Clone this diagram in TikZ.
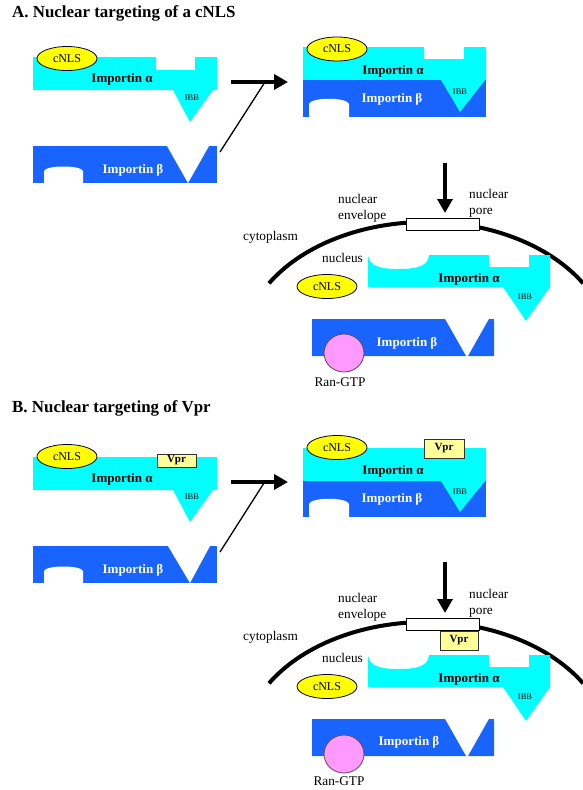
\documentclass[tikz,border=0pt]{standalone}
\usepackage{fontspec}
\setmainfont{Liberation Serif}
\usetikzlibrary{arrows.meta,shapes.geometric}
\definecolor{alphacyan}{RGB}{0,255,255}
\definecolor{betablue}{RGB}{25,100,255}
\definecolor{nlsyellow}{RGB}{255,255,0}
\definecolor{vprfill}{RGB}{255,255,153}
\definecolor{ranpink}{RGB}{255,153,255}
\begin{document}
\begin{tikzpicture}[x=1pt,y=-1pt,
  titletext/.style={inner sep=0pt,font=\fontsize{16.9}{18}\selectfont\bfseries},
  alphatext/.style={inner sep=0pt,font=\fontsize{13}{15}\selectfont\bfseries},
  betatext/.style={inner sep=0pt,text=white,font=\fontsize{13}{15}\selectfont\bfseries},
  ibbtext/.style={inner sep=0pt,font=\fontsize{8.5}{10}\selectfont},
  labeltext/.style={inner sep=0pt,font=\fontsize{13.3}{16}\selectfont},
  nls/.style={ellipse,draw=black!80!blue,line width=0.8pt,fill=nlsyellow,minimum width=60pt,minimum height=24pt,inner sep=0pt,font=\fontsize{12}{13}\selectfont},
  ran/.style={ellipse,draw=black!70!magenta,line width=0.8pt,fill=ranpink,minimum width=40pt,minimum height=38pt,inner sep=0pt},
  vprbox/.style={rectangle,draw=black!80,line width=0.7pt,fill=vprfill,inner sep=0pt,font=\fontsize{11}{13}\selectfont\bfseries},
  pore/.style={rectangle,draw=black,line width=0.8pt,fill=white,minimum width=73pt,minimum height=12pt,inner sep=0pt},
  bigarrow/.style={line width=4pt,-{Triangle[length=14pt,width=15pt]}},
  thinline/.style={line width=1.3pt},
  envelope/.style={line width=4pt}]
\useasboundingbox (0,0) rectangle (583,790);

% ---------------- titles ----------------
\node[titletext,anchor=base west] (titleA) at (12,17.5) {A. Nuclear targeting of a cNLS};
\node[titletext,anchor=base west] (titleB) at (12,412) {B. Nuclear targeting of Vpr};

% ================= PANEL A =================
\begin{scope}
% left importin alpha
\fill[alphacyan] (33,57) -- (156,57) -- (156,70) -- (195,70) -- (195,57) -- (217,57) -- (217,90) -- (213,90) -- (190,122) -- (173,90) -- (33,90) -- cycle;
\node[ibbtext] (A-ibb1) at (192,98) {IBB};
\node[alphatext] (A-alpha1) at (122,79) {Importin α};
\node[nls] (A-nls1) at (67,58.5) {cNLS};
% left importin beta
\fill[betablue] (33,146) rectangle (217,183);
\fill[white] (167,146) -- (209,146) -- (188,183) -- cycle;
\fill[white] (44,183) -- (44,171) .. controls (46,165) and (81,165) .. (83,171) -- (83,183) -- cycle;
\node[betatext] (A-beta1) at (133,170) {Importin β};
% arrows
\coordinate (A-h0) at (231,82);
\coordinate (A-h1) at (288,82);
\draw[bigarrow] (A-h0) -- (A-h1);
\coordinate (A-t0) at (220,152);
\coordinate (A-t1) at (265,82);
\draw[thinline] (A-t0) -- (A-t1);
% complex
\fill[alphacyan] (303,47) -- (424,47) -- (424,59) -- (464,59) -- (464,47) -- (486,47) -- (486,80) -- (303,80) -- cycle;
\fill[betablue] (303,80) rectangle (486,117);
\fill[alphacyan] (441,80) -- (485,80) -- (460,112) -- cycle;
\fill[white] (309,117) -- (309,104) .. controls (311,97) and (347,97) .. (349,104) -- (349,117) -- cycle;
\node[alphatext] (A-alpha2) at (393,71) {Importin α};
\node[betatext] (A-beta2) at (392,99) {Importin β};
\node[ibbtext] (A-ibb2) at (460,92) {IBB};
\node[nls] (A-nls2) at (337,49) {cNLS};
% down arrow and envelope
\coordinate (A-d0) at (445,163);
\coordinate (A-d1) at (445,213);
\draw[bigarrow] (A-d0) -- (A-d1);
\draw[envelope] (269,283.3) arc[start angle=211.4,end angle=328.6,x radius=184,y radius=128];
\node[pore] (A-pore) at (442.5,224) {};
\node[labeltext,align=left,anchor=west] (A-ne) at (338,208) {nuclear\\envelope};
\node[labeltext,align=left,anchor=west] (A-np) at (469,203) {nuclear\\pore};
\node[labeltext,anchor=west] (A-cyto) at (243,237) {cytoplasm};
\node[labeltext,anchor=west] (A-nuc) at (322,258) {nucleus};
% nucleus importin alpha
\fill[alphacyan] (368,255) .. controls (369,266) and (380,269) .. (398,269) .. controls (418,269) and (428,266) .. (429,255) -- (489,255) -- (489,267) -- (529,267) -- (529,255) -- (550,255) -- (550,287) -- (526,321) -- (503,287) -- (368,287) -- cycle;
\node[alphatext] (A-alpha3) at (469,279) {Importin α};
\node[ibbtext] (A-ibb3) at (525,297) {IBB};
\node[nls] (A-nls3) at (327,286.5) {cNLS};
% nucleus importin beta
\fill[betablue] (312,319) -- (445,319) -- (466,356) -- (312,356) -- cycle;
\fill[betablue] (489,319) -- (494,319) -- (494,356) -- (468,356) -- cycle;
\node[betatext] (A-beta3) at (407,343) {Importin β};
\node[ran] (A-ran) at (344,353) {};
\node[labeltext] (A-rantext) at (340,382) {Ran-GTP};
\end{scope}

% ================= PANEL B =================
\begin{scope}[shift={(0,400)}]
% left importin alpha
\fill[alphacyan] (33,57) -- (217,57) -- (217,90) -- (213,90) -- (190,122) -- (173,90) -- (33,90) -- cycle;
\node[ibbtext] (B-ibb1) at (192,97) {IBB};
\node[alphatext] (B-alpha1) at (122,79) {Importin α};
\node[nls] (B-nls1) at (67,56.5) {cNLS};
\node[vprbox,minimum width=39pt,minimum height=13pt] (B-vpr1) at (176.5,60.5) {Vpr};
% left importin beta
\fill[betablue] (33,146) rectangle (217,183);
\fill[white] (168,146) -- (210,146) -- (190,183) -- cycle;
\fill[white] (44,183) -- (44,171) .. controls (46,165) and (81,165) .. (83,171) -- (83,183) -- cycle;
\node[betatext] (B-beta1) at (133,170) {Importin β};
% arrows
\coordinate (B-h0) at (231,82);
\coordinate (B-h1) at (288,82);
\draw[bigarrow] (B-h0) -- (B-h1);
\coordinate (B-t0) at (220,152);
\coordinate (B-t1) at (264,83);
\draw[thinline] (B-t0) -- (B-t1);
% complex
\fill[alphacyan] (303,48) -- (486,48) -- (486,81) -- (303,81) -- cycle;
\fill[betablue] (303,81) rectangle (486,117);
\fill[alphacyan] (441,81) -- (485,81) -- (460,112) -- cycle;
\fill[white] (309,117) -- (309,104) .. controls (311,97) and (347,97) .. (349,104) -- (349,117) -- cycle;
\node[alphatext] (B-alpha2) at (393,71) {Importin α};
\node[betatext] (B-beta2) at (392,99) {Importin β};
\node[ibbtext] (B-ibb2) at (460,92) {IBB};
\node[nls] (B-nls2) at (337,47.5) {cNLS};
\node[vprbox,minimum width=40pt,minimum height=19pt] (B-vpr2) at (444,48.5) {Vpr};
% down arrow and envelope
\coordinate (B-d0) at (445,162);
\coordinate (B-d1) at (445,213);
\draw[bigarrow] (B-d0) -- (B-d1);
\draw[envelope] (269,283.3) arc[start angle=211.4,end angle=328.6,x radius=184,y radius=128];
\node[pore] (B-pore) at (442.5,224) {};
\node[vprbox,minimum width=38pt,minimum height=19pt] (B-vpr3) at (459,240.5) {Vpr};
\node[labeltext,align=left,anchor=west] (B-ne) at (338,207.5) {nuclear\\envelope};
\node[labeltext,align=left,anchor=west] (B-np) at (469,203) {nuclear\\pore};
\node[labeltext,anchor=west] (B-cyto) at (243,237) {cytoplasm};
\node[labeltext,anchor=west] (B-nuc) at (322,258) {nucleus};
% nucleus importin alpha
\fill[alphacyan] (368,255) .. controls (369,266) and (380,269) .. (398,269) .. controls (418,269) and (428,266) .. (429,255) -- (489,255) -- (489,267) -- (529,267) -- (529,255) -- (550,255) -- (550,287) -- (526,321) -- (503,287) -- (368,287) -- cycle;
\node[alphatext] (B-alpha3) at (469,279) {Importin α};
\node[ibbtext] (B-ibb3) at (525,297) {IBB};
\node[nls] (B-nls3) at (327,286.5) {cNLS};
% nucleus importin beta
\fill[betablue] (312,319) -- (445,319) -- (466,356) -- (312,356) -- cycle;
\fill[betablue] (489,319) -- (494,319) -- (494,356) -- (468,356) -- cycle;
\node[betatext] (B-beta3) at (409,342) {Importin β};
\node[ran] (B-ran) at (344,354) {};
\node[labeltext] (B-rantext) at (339,381) {Ran-GTP};
\end{scope}
\end{tikzpicture}
\end{document}
